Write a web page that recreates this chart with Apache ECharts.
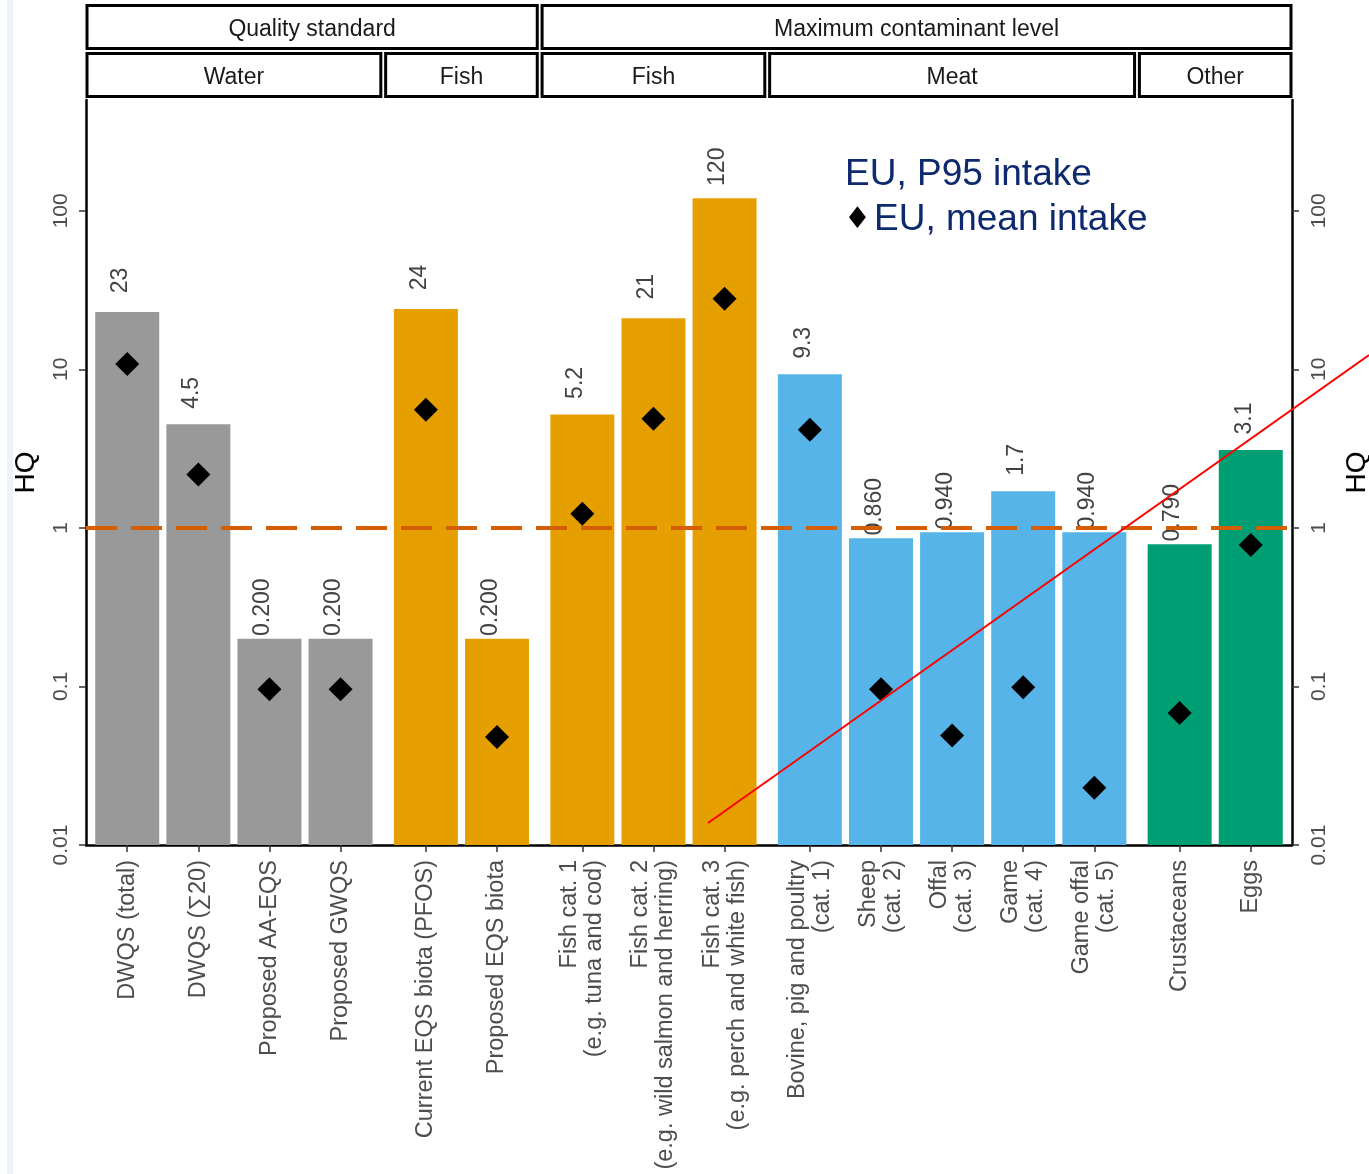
<!DOCTYPE html>
<html>
<head>
<meta charset="utf-8">
<title>Hazard quotients</title>
<script src="https://cdn.jsdelivr.net/npm/echarts@6/dist/echarts.min.js"></script>
<style>
html, body { margin: 0; padding: 0; background: #fff; }
#main { width: 1369px; height: 1174px; }
</style>
</head>
<body>
<div id="main"></div>
<script>
// x categories, in panel order
var categories = [
    'DWQS (total)', 'DWQS (\u221120)', 'Proposed AA-EQS', 'Proposed GWQS',
    'Current EQS biota (PFOS)', 'Proposed EQS biota',
    'Fish cat. 1\n(e.g. tuna and cod)', 'Fish cat. 2\n(e.g. wild salmon and herring)', 'Fish cat. 3\n(e.g. perch and white fish)',
    'Bovine, pig and poultry\n(cat. 1)', 'Sheep\n(cat. 2)', 'Offal\n(cat. 3)', 'Game\n(cat. 4)', 'Game offal\n(cat. 5)',
    'Crustaceans', 'Eggs'
];
var panelNames = ['Water', 'Fish', 'Fish', 'Meat', 'Other'];
var panelSizes = [4, 2, 3, 5, 2];
var panelColors = ['#999999', '#E69F00', '#E69F00', '#56B4E9', '#009E73'];
var headerNames = ['Quality standard', 'Maximum contaminant level'];
var headerSpans = [2, 3];   // panels under each header

// HQ values
var p95Intake = [23, 4.5, 0.2, 0.2, 24, 0.2, 5.2, 21, 120, 9.3, 0.86, 0.94, 1.7, 0.94, 0.79, 3.1];
var meanIntake = [10.8, 2.17, 0.096, 0.096, 5.56, 0.048, 1.23, 4.88, 27.9, 4.16, 0.096, 0.049, 0.099, 0.023, 0.068, 0.78];
var yTicks = [0.01, 0.1, 1, 10, 100];
var threshold = 1;

var Y_MIN = 0.01, Y_MAX = 500;
var PANEL_GAP = 0.2, EXPAND = 0.58, BAR = 0.9;
var FONT = '"Liberation Sans", Arial, Helvetica, sans-serif';

// x position of each bar: one unit per bar plus a small gap between panels
var xs = [], barColors = [], panelFirst = [], panelLast = [];
var k = 0;
panelSizes.forEach(function (n, p) {
    panelFirst.push(k);
    for (var j = 0; j < n; j++) {
        xs.push(k + p * PANEL_GAP);
        barColors.push(panelColors[p]);
        k++;
    }
    panelLast.push(k - 1);
});

function catLabel(v) {
    for (var i = 0; i < xs.length; i++) {
        if (Math.abs(xs[i] - v) < 1e-6) return categories[i];
    }
    return '';
}
function hqLabel(v) {
    return v < 1 ? v.toFixed(3) : String(v);
}

function yAxis(position, margin, nameGap) {
    return {
        type: 'log',
        logBase: 10,
        position: position,
        min: Y_MIN,
        max: Y_MAX,
        name: 'HQ',
        nameLocation: 'middle',
        nameRotate: 90,
        nameGap: nameGap,
        nameTextStyle: { fontSize: 28, color: '#000', fontFamily: FONT },
        axisLine: { show: true, onZero: false, lineStyle: { color: '#000', width: 2.5 } },
        axisTick: { show: true, length: 7, customValues: yTicks, lineStyle: { color: '#333', width: 1.5 } },
        axisLabel: { rotate: 90, fontSize: 21, color: '#4d4d4d', margin: margin, customValues: yTicks,
            formatter: function (v) { return String(v); } },
        splitLine: { show: false },
        minorTick: { show: false }
    };
}

var myChart = echarts.init(document.getElementById('main'));
myChart.setOption({
    animation: false,
    textStyle: { fontFamily: FONT },
    grid: { left: 86, right: 77, top: 100, bottom: 329, outerBoundsMode: 'none' },
    xAxis: {
        type: 'value',
        min: -EXPAND,
        max: xs[xs.length - 1] + EXPAND,
        splitLine: { show: false },
        axisLine: { show: true, onZero: false, lineStyle: { color: '#000', width: 2.5 } },
        axisTick: { show: true, length: 7, customValues: xs, lineStyle: { color: '#333', width: 1.5 } },
        axisLabel: { rotate: 90, fontSize: 23.5, lineHeight: 25, color: '#4d4d4d', margin: 15,
            customValues: xs, formatter: catLabel }
    },
    yAxis: [yAxis('left', 14, 46), yAxis('right', 17, 51)],
    series: [
        {
            // P95 intake bars, drawn from the axis floor up to the value
            name: 'EU, P95 intake',
            type: 'custom',
            z: 2,
            encode: { x: 0, y: 1 },
            data: xs.map(function (x, i) {
                return { value: [x, p95Intake[i]], itemStyle: { color: barColors[i] } };
            }),
            renderItem: function (params, api) {
                var x = api.value(0), v = api.value(1);
                var left = api.coord([x - BAR / 2, v]);
                var right = api.coord([x + BAR / 2, v]);
                var base = api.coord([x, Y_MIN]);
                return {
                    type: 'rect',
                    shape: { x: left[0], y: left[1], width: right[0] - left[0], height: base[1] - left[1] },
                    style: { fill: api.visual('color') }
                };
            }
        },
        {
            // value labels above bars
            type: 'scatter',
            z: 3,
            symbol: 'circle',
            symbolSize: 1,
            silent: true,
            itemStyle: { color: 'rgba(0,0,0,0)' },
            data: xs.map(function (x, i) { return [x, p95Intake[i]]; }),
            label: {
                show: true,
                position: 'top',
                distance: 31,
                rotate: 90,
                align: 'center',
                verticalAlign: 'bottom',
                offset: [0, 5],
                fontSize: 23,
                color: '#111',
                formatter: function (p) { return hqLabel(p.value[1]); }
            }
        },
        {
            name: 'EU, mean intake',
            type: 'scatter',
            z: 4,
            symbol: 'diamond',
            symbolSize: 24,
            itemStyle: { color: '#000', opacity: 1 },
            data: xs.map(function (x, i) { return [x, meanIntake[i]]; }),
            markLine: {
                silent: true,
                symbol: ['none', 'none'],
                label: { show: false },
                lineStyle: { color: '#D55E00', width: 4, opacity: 1, type: [31, 14] },
                data: [{ yAxis: threshold }]
            }
        }
    ]
});

// facet strips above the plot, sized from the x axis
function px(v) { return myChart.convertToPixel({ xAxisIndex: 0 }, v); }
var graphics = [
    { type: 'rect', shape: { x: 7, y: 0, width: 6, height: 1174 }, style: { fill: '#eef3fa' }, silent: true }
];
function strip(l, r, y, h, text) {
    graphics.push({ type: 'rect', shape: { x: l + 1, y: y, width: r - l - 2, height: h },
        style: { fill: '#fff', stroke: '#000', lineWidth: 3 }, z: 10 });
    graphics.push({ type: 'text', x: (l + r) / 2, y: y + h / 2 + 3, z: 11,
        style: { text: text, fontSize: 23, fontFamily: FONT, fill: '#1a1a1a', align: 'center', verticalAlign: 'middle' } });
}
var panelLeft = panelFirst.map(function (i) { return px(xs[i] - EXPAND); });
var panelRight = panelLast.map(function (i) { return px(xs[i] + EXPAND); });
panelNames.forEach(function (name, p) {
    strip(panelLeft[p], panelRight[p], 53.5, 43, name);
});
var pStart = 0;
headerNames.forEach(function (name, h) {
    var pEnd = pStart + headerSpans[h] - 1;
    strip(panelLeft[pStart], panelRight[pEnd], 5.5, 43, name);
    pStart = pEnd + 1;
});

// legend text
graphics.push({ type: 'text', x: 845, y: 175, z: 12,
    style: { text: 'EU, P95 intake', fontSize: 37, fontFamily: FONT, fill: '#0e2a6e', verticalAlign: 'middle' } });
graphics.push({ type: 'text', x: 844, y: 220, z: 12,
    style: { text: '\u2666', fontSize: 30, fontFamily: 'DejaVu Sans', fill: '#000', verticalAlign: 'middle' } });
graphics.push({ type: 'text', x: 874, y: 220, z: 12,
    style: { text: 'EU, mean intake', fontSize: 37, fontFamily: FONT, fill: '#0e2a6e', verticalAlign: 'middle' } });

// red annotation stroke
graphics.push({ type: 'line', z: 20, silent: true,
    shape: { x1: 708, y1: 823, x2: 1369, y2: 355 }, style: { stroke: '#ff0000', lineWidth: 2 } });

myChart.setOption({ graphic: graphics });
</script>
</body>
</html>
